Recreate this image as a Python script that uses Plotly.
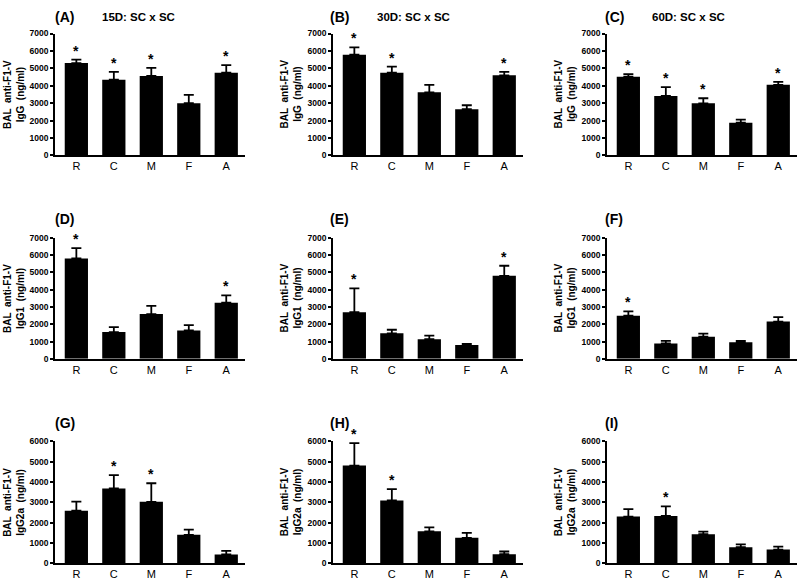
import plotly.graph_objects as go

categories = ["R", "C", "M", "F", "A"]

panel_letters = ["(A)", "(B)", "(C)", "(D)", "(E)", "(F)", "(G)", "(H)", "(I)"]
panel_titles = ["15D: SC x SC", "30D: SC x SC", "60D: SC x SC", "", "", "", "", "", ""]
y_titles = ["BAL  anti-F1-V<br>IgG  (ng/ml)"] * 3 + ["BAL  anti-F1-V<br>IgG1  (ng/ml)"] * 3 + ["BAL  anti-F1-V<br>IgG2a  (ng/ml)"] * 3
y_max = [7000] * 6 + [6000] * 3

means_A = [5300, 4350, 4560, 3000, 4750]
sem_A = [200, 450, 470, 470, 430]
means_B = [5780, 4750, 3620, 2650, 4600]
sem_B = [420, 350, 430, 230, 200]
means_C = [4520, 3410, 2990, 1880, 4050]
sem_C = [150, 510, 290, 170, 170]
means_D = [5810, 1550, 2590, 1645, 3250]
sem_D = [600, 285, 475, 305, 420]
means_E = [2705, 1475, 1135, 795, 4805]
sem_E = [1380, 210, 210, 75, 585]
means_F = [2500, 890, 1285, 965, 2160]
sem_F = [245, 150, 170, 75, 260]
means_G = [2590, 3685, 3025, 1400, 435]
sem_G = [450, 660, 915, 255, 175]
means_H = [4810, 3090, 1575, 1255, 450]
sem_H = [1110, 560, 195, 240, 130]
means_I = [2300, 2330, 1430, 790, 675]
sem_I = [370, 470, 130, 140, 145]

significant_A = [1, 1, 1, 0, 1]
significant_B = [1, 1, 0, 0, 1]
significant_C = [1, 1, 1, 0, 1]
significant_D = [1, 0, 0, 0, 1]
significant_E = [1, 0, 0, 0, 1]
significant_F = [1, 0, 0, 0, 0]
significant_G = [0, 1, 1, 0, 0]
significant_H = [1, 1, 0, 0, 0]
significant_I = [0, 1, 0, 0, 0]

means = [means_A, means_B, means_C, means_D, means_E, means_F, means_G, means_H, means_I]
sems = [sem_A, sem_B, sem_C, sem_D, sem_E, sem_F, sem_G, sem_H, sem_I]
sigs = [significant_A, significant_B, significant_C, significant_D, significant_E,
        significant_F, significant_G, significant_H, significant_I]

W, H = 800, 585
col_x0 = [55, 333, 607]
col_w = 190
row_y = [(29, 153), (237, 360), (444, 568)]
ytitle_x = [14.5, 291, 565]
letter_x = [53, 328, 603]
letter_y = [12, 218, 425]
title_x = [100, 375, 650]

fig = go.Figure()
layout = dict(
    width=W, height=H, margin=dict(l=0, r=0, t=0, b=0),
    paper_bgcolor="white", plot_bgcolor="white", showlegend=False,
    font=dict(family="Arial, Liberation Sans", color="black"),
)
annotations = []

for i in range(9):
    r, c = divmod(i, 3)
    n = i + 1
    xa = "x" if n == 1 else f"x{n}"
    ya = "y" if n == 1 else f"y{n}"
    xkey = "xaxis" if n == 1 else f"xaxis{n}"
    ykey = "yaxis" if n == 1 else f"yaxis{n}"
    xs = list(range(len(categories)))
    fig.add_trace(go.Bar(
        x=xs, y=means[i], xaxis=xa, yaxis=ya, width=0.62,
        marker=dict(color="black", line=dict(width=0)),
        error_y=dict(type="data", symmetric=False, array=sems[i],
                     arrayminus=[0] * 5, color="black", thickness=1.8, width=5),
    ))
    star_x = [x for x, s in zip(xs, sigs[i]) if s]
    star_y = [m + e for m, e, s in zip(means[i], sems[i], sigs[i]) if s]
    for sx, sy in zip(star_x, star_y):
        annotations.append(dict(x=sx, y=sy, xref=xa, yref=ya, text="<b>*</b>",
                                showarrow=False, yanchor="bottom", yshift=-1,
                                font=dict(size=14, color="black")))
    x0 = col_x0[c] / W
    x1 = (col_x0[c] + col_w) / W
    y1 = 1 - row_y[r][0] / H
    y0 = 1 - row_y[r][1] / H
    layout[xkey] = dict(
        domain=[x0, x1], anchor=ya, range=[-0.57, 4.5],
        tickmode="array", tickvals=xs, ticktext=categories,
        showline=True, linecolor="black", linewidth=1.8, ticks="",
        tickfont=dict(size=11, color="black", family="Arial, Liberation Sans"),
        showgrid=False, zeroline=False, fixedrange=True,
    )
    layout[ykey] = dict(
        domain=[y0, y1], anchor=xa, range=[0, y_max[i]], dtick=1000,
        showline=True, linecolor="black", linewidth=1.8, ticks="outside",
        ticklen=3, tickwidth=1.5, tickcolor="black",
        tickfont=dict(size=8.5, color="black", family="Arial, Liberation Sans"),
        tickprefix="<b>", ticksuffix="</b>",
        showgrid=False, zeroline=False, fixedrange=True,
    )
    annotations.append(dict(
        x=ytitle_x[c] / W, y=(y0 + y1) / 2, xref="paper", yref="paper",
        text="<b>" + y_titles[i] + "</b>", textangle=-90, showarrow=False,
        xanchor="center", yanchor="middle",
        font=dict(size=10, color="black"),
    ))
    annotations.append(dict(
        x=letter_x[c] / W, y=1 - letter_y[r] / H, xref="paper", yref="paper",
        text="<b>" + panel_letters[i] + "</b>", showarrow=False,
        xanchor="left", yanchor="middle", font=dict(size=14, color="black"),
    ))
    if panel_titles[i]:
        annotations.append(dict(
            x=title_x[c] / W, y=1 - letter_y[r] / H, xref="paper", yref="paper",
            text="<b>" + panel_titles[i] + "</b>", showarrow=False,
            xanchor="left", yanchor="middle", font=dict(size=11.5, color="black"),
        ))

layout["annotations"] = annotations
fig.update_layout(**layout)
fig.write_html("out.html", config={"displayModeBar": False},
               post_script="document.body.style.margin='0px';document.body.style.overflow='hidden';")
